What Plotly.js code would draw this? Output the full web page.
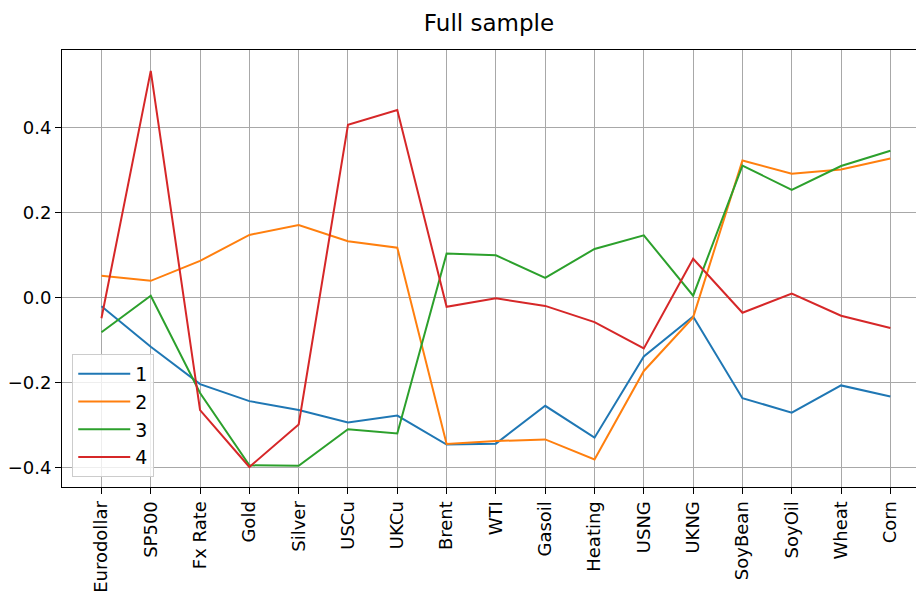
<!DOCTYPE html>
<html>
<head>
<meta charset="utf-8">
<script src="https://cdn.plot.ly/plotly-3.0.1.min.js"></script>
<style>html,body{margin:0;padding:0;background:#fff;}#chart{width:916px;height:592px;}</style>
</head>
<body>
<div id="chart"></div>
<script>
const categories = ["Eurodollar","SP500","Fx Rate","Gold","Silver","USCu","UKCu","Brent","WTI","Gasoil","Heating","USNG","UKNG","SoyBean","SoyOil","Wheat","Corn"];
const series1 = [-0.020,-0.115,-0.203,-0.243,-0.264,-0.293,-0.277,-0.345,-0.343,-0.254,-0.329,-0.138,-0.044,-0.236,-0.270,-0.206,-0.232];
const series2 = [0.052,0.040,0.087,0.148,0.171,0.133,0.118,-0.344,-0.337,-0.333,-0.380,-0.172,-0.046,0.323,0.292,0.302,0.328];
const series3 = [-0.081,0.005,-0.224,-0.394,-0.395,-0.309,-0.319,0.104,0.100,0.047,0.115,0.147,0.005,0.311,0.254,0.310,0.346];
const series4 = [-0.048,0.534,-0.264,-0.398,-0.298,0.407,0.442,-0.021,-0.001,-0.019,-0.057,-0.119,0.092,-0.035,0.010,-0.042,-0.071];
const names = ["1","2","3","4"];
const colors = ["#1f77b4","#ff7f0e","#2ca02c","#d62728"];
const allSeries = [series1, series2, series3, series4];
const xIdx = categories.map((_, i) => i);

const traces = allSeries.map((s, k) => ({
  x: xIdx, y: s, type: "scatter", mode: "lines", name: names[k],
  line: {color: colors[k], width: 2}
}));

const font = {family: "DejaVu Sans, sans-serif", size: 18, color: "#000"};
const layout = {
  width: 916, height: 592,
  margin: {l: 62, r: 0, t: 50, b: 105, pad: 0},
  paper_bgcolor: "#fff", plot_bgcolor: "#fff",
  font: font,
  title: {text: "Full sample", font: {family: "DejaVu Sans, sans-serif", size: 23, color: "#000"}, x: 0.5, xref: "paper", y: 0.962, yanchor: "middle"},
  xaxis: {
    range: [-0.8, 16.52], tickmode: "array", tickvals: xIdx, ticktext: categories,
    tickangle: -90, ticks: "outside", ticklen: 6, tickcolor: "#000",
    showgrid: true, gridcolor: "#a8a8a8", gridwidth: 1,
    showline: true, linecolor: "#000", linewidth: 1, mirror: true,
    zeroline: false, tickfont: font
  },
  yaxis: {
    range: [-0.445, 0.583], tickvals: [-0.4,-0.2,0,0.2,0.4], ticktext: ["−0.4","−0.2","0.0","0.2","0.4"],
    ticks: "outside", ticklen: 6, tickcolor: "#000",
    showgrid: true, gridcolor: "#a8a8a8", gridwidth: 1,
    showline: true, linecolor: "#000", linewidth: 1,
    zeroline: false, tickfont: font
  },
  showlegend: true,
  legend: {
    x: 0.012, y: 0.023, xanchor: "left", yanchor: "bottom",
    bgcolor: "rgba(255,255,255,0.8)", bordercolor: "#cccccc", borderwidth: 1,
    font: {family: "DejaVu Sans, sans-serif", size: 19, color: "#000"},
    itemwidth: 52, tracegroupgap: 0
  }
};
Plotly.newPlot("chart", traces, layout, {displayModeBar: false, staticPlot: true});
</script>
</body>
</html>
